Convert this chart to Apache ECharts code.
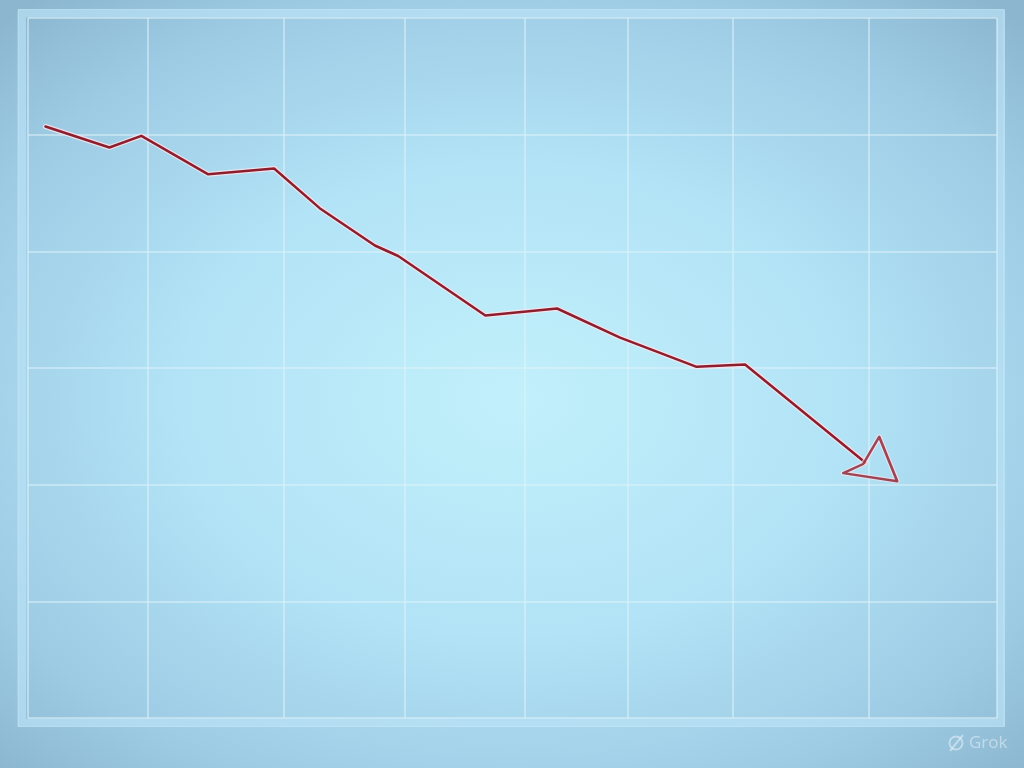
<!DOCTYPE html>
<html>
<head>
<meta charset="utf-8">
<script src="https://cdn.jsdelivr.net/npm/echarts@6/dist/echarts.min.js"></script>
<style>
html,body{margin:0;padding:0;width:1024px;height:768px;overflow:hidden;}
body{background:radial-gradient(ellipse 72% 68% at 50% 52%, #c2f0fb 0%, #b2e3f6 45%, #9dcbe4 80%, #8cb6d0 100%);}
#c{width:1024px;height:768px;}
</style>
</head>
<body>
<div id="c"></div>
<script>
// Data
var xValues = [1.8, 8.4, 11.7, 18.6, 25.4, 30.1, 35.8, 38.2, 47.2, 54.6, 61.1, 69.0, 74.0, 86.4];
var yValues = [5.07, 4.89, 4.99, 4.66, 4.71, 4.37, 4.05, 3.96, 3.45, 3.51, 3.26, 3.01, 3.03, 2.19];
var verticalGridX = [0, 12.4, 26.4, 38.9, 51.3, 61.9, 72.7, 86.8, 100];
var watermarkText = 'Grok';

var points = xValues.map(function (x, i) { return [x, yValues[i]]; });
var lastPoint = [points[points.length - 1]];

var chart = echarts.init(document.getElementById('c'), null, {renderer: 'canvas'});
var gridLineColor = 'rgba(222,242,250,0.7)';
var lineRed = '#8c1e2e';
var halo = 'rgba(255,228,234,0.8)';
var arrowPath = 'path://M20,30 L0,40 L54,49 L36,0 Z';

chart.setOption({
  backgroundColor: 'transparent',
  animation: false,
  grid: {left: 28, top: 18, right: 27, bottom: 50, show: false},
  xAxis: {
    type: 'value', min: 0, max: 100,
    axisLine: {show: false}, axisTick: {show: false}, axisLabel: {show: false},
    splitLine: {show: false}
  },
  yAxis: {
    type: 'value', min: 0, max: 6, interval: 1,
    axisLine: {show: false}, axisTick: {show: false}, axisLabel: {show: false},
    splitLine: {show: true, lineStyle: {color: gridLineColor, width: 1.5}}
  },
  graphic: [
    {type: 'rect', z: -1, shape: {x: 22, y: 13.5, width: 979, height: 709}, style: {fill: 'none', stroke: 'rgba(185,225,245,0.7)', lineWidth: 8}},
    {type: 'rect', z: -1, shape: {x: 18, y: 9.5, width: 986, height: 717}, style: {fill: 'none', stroke: 'rgba(210,238,250,0.5)', lineWidth: 1}},
    {type: 'circle', shape: {cx: 956, cy: 743, r: 6.5}, style: {fill: 'none', stroke: 'rgba(232,242,248,0.55)', lineWidth: 2}},
    {type: 'line', shape: {x1: 950, y1: 751, x2: 963, y2: 735}, style: {stroke: 'rgba(232,242,248,0.55)', lineWidth: 2}},
    {type: 'text', style: {text: watermarkText, x: 969, y: 743, fill: 'rgba(232,242,248,0.55)', font: '17px "Open Sans", sans-serif', textVerticalAlign: 'middle'}}
  ],
  series: [
    {
      type: 'line', data: [], silent: true, z: 1,
      markLine: {
        silent: true, symbol: 'none', label: {show: false}, z: 1,
        lineStyle: {color: gridLineColor, width: 1.5, type: 'solid'},
        data: verticalGridX.map(function (v) { return {xAxis: v}; })
      }
    },
    {
      type: 'line', data: points, showSymbol: false, silent: true, z: 3,
      lineStyle: {color: halo, width: 5, join: 'round', cap: 'round'}
    },
    {
      type: 'line', data: points, showSymbol: false, silent: true, z: 4,
      lineStyle: {color: lineRed, width: 2.5, join: 'round', cap: 'round'}
    },
    {
      type: 'scatter', data: lastPoint, silent: true, z: 5,
      symbol: arrowPath, symbolSize: [54, 49], symbolOffset: [5, -3.5], symbolKeepAspect: true,
      itemStyle: {color: 'rgba(0,0,0,0)', borderColor: halo, borderWidth: 5, borderJoin: 'round'}
    },
    {
      type: 'scatter', data: lastPoint, silent: true, z: 6,
      symbol: arrowPath, symbolSize: [54, 49], symbolOffset: [5, -3.5], symbolKeepAspect: true,
      itemStyle: {color: 'rgba(0,0,0,0)', borderColor: lineRed, borderWidth: 2.5, borderJoin: 'round'}
    }
  ]
});
</script>
</body>
</html>
